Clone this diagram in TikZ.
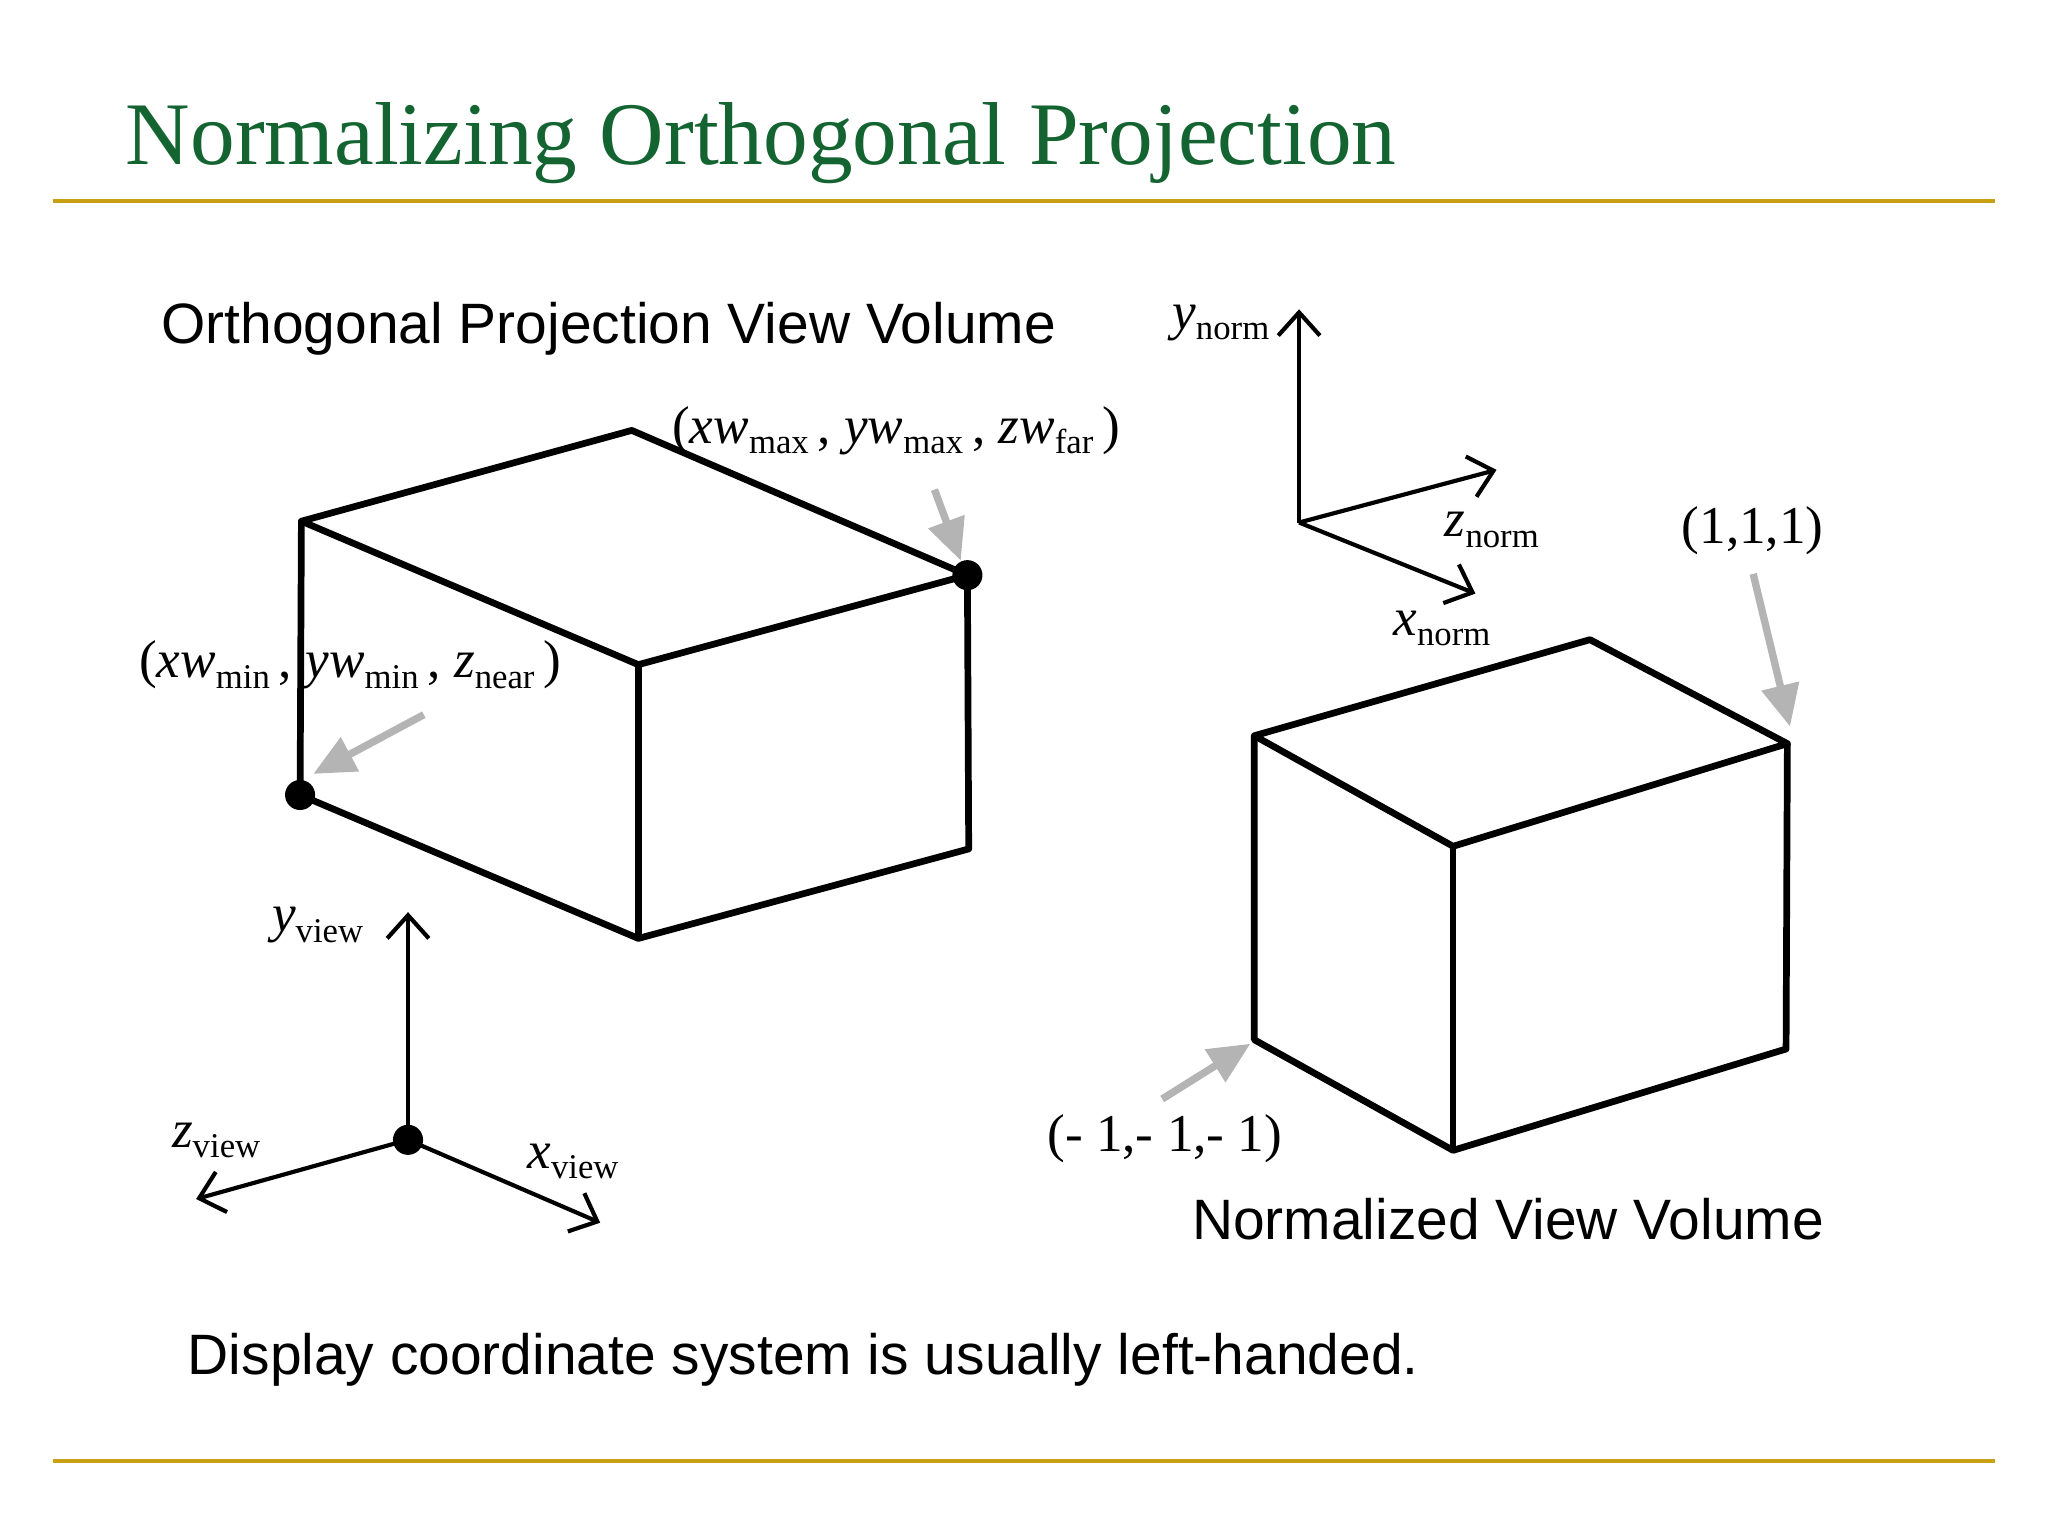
\documentclass[tikz,border=0pt]{standalone}
\usepackage{fontspec}
\setmainfont{Liberation Serif}
\setsansfont{Liberation Sans}
\usetikzlibrary{arrows.meta}
\definecolor{gold}{RGB}{201,160,20}
\definecolor{ttl}{RGB}{20,100,50}
\definecolor{grayarr}{RGB}{180,180,180}
\tikzset{
 boxl/.style={line width=1.45pt,line join=round},
 axl/.style={line width=0.9pt,-{Straight Barb[length=5pt,width=9pt,line width=0.9pt]}},
 garr/.style={grayarr,line width=1.6pt,-{Triangle[length=9pt,width=8pt]}},
 lab/.style={font=\fontsize{11.5pt}{13pt}\selectfont,inner sep=0pt},
 stxt/.style={font=\sffamily\fontsize{12.3pt}{14pt}\selectfont,inner sep=0pt,anchor=base west},
 dot/.style={circle,fill=black,inner sep=0pt,minimum size=6.5pt}
}
\newcommand{\sbs}[1]{\raisebox{-2.2pt}{\fontsize{7.5pt}{8pt}\selectfont #1}}
\begin{document}
\begin{tikzpicture}[x=0.01cm,y=-0.01cm]
\useasboundingbox (0,0) rectangle (1556,1167);
\node[anchor=base west,inner sep=0pt,text=ttl,font=\fontsize{19.3pt}{24pt}\selectfont] (title) at (95,125) {Normalizing Orthogonal Projection};
\coordinate (l1a) at (40,153); \coordinate (l1b) at (1516,153);
\coordinate (l2a) at (40,1110); \coordinate (l2b) at (1516,1110);
\draw[gold,line width=0.9pt] (l1a)--(l1b);
\draw[gold,line width=0.9pt] (l2a)--(l2b);
\node[stxt] (t1) at (122,261) {Orthogonal Projection View Volume};
\node[stxt] (t2) at (905,942) {Normalized View Volume};
\node[stxt] (t3) at (142,1044) {Display coordinate system is usually left-handed.};
% box 1
\coordinate (a1) at (229,396); \coordinate (a2) at (480,327); \coordinate (a3) at (735,437); \coordinate (a4) at (485,505);
\coordinate (b1) at (228,604); \coordinate (b4) at (485,713); \coordinate (b3) at (736,645);
\draw[boxl] (a1)--(a2)--(a3)--(a4)--cycle;
\draw[boxl] (a1)--(b1)--(b4)--(b3)--(a3);
\draw[boxl] (a4)--(b4);
\node[dot] (d1) at (b1) {}; \node[dot] (d2) at (a3) {};
\node[lab,anchor=base west] (lmax) at (510,337) {(\textit{xw}\sbs{max}\,, \textit{yw}\sbs{max}\,, \textit{zw}\sbs{far}\,)};
\node[lab,anchor=base west] (lmin) at (105,515) {(\textit{xw}\sbs{min}\,, \textit{yw}\sbs{min}\,, \textit{z}\sbs{near}\,)};
\coordinate (g1s) at (710,372); \coordinate (g1e) at (730,426);
\coordinate (g2s) at (322,543); \coordinate (g2e) at (238,588);
\draw[garr] (g1s)--(g1e);
\draw[garr] (g2s)--(g2e);
% view axes
\node[dot] (o1) at (310,866) {};
\coordinate (vy) at (310,693); \coordinate (vz) at (149,911); \coordinate (vx) at (456,929);
\draw[axl] (o1.center)--(vy);
\draw[axl] (o1.center)--(vz);
\draw[axl] (o1.center)--(vx);
\node[lab,anchor=base west] (lvy) at (206,708) {\textit{y}\sbs{view}};
\node[lab,anchor=base west] (lvz) at (130,872) {\textit{z}\sbs{view}};
\node[lab,anchor=base west] (lvx) at (400,888) {\textit{x}\sbs{view}};
% norm axes
\coordinate (o2) at (987,397);
\coordinate (ny) at (987,235); \coordinate (nz) at (1137,357); \coordinate (nx) at (1121,451);
\draw[axl] (o2)--(ny);
\draw[axl] (o2)--(nz);
\draw[axl] (o2)--(nx);
\node[lab,anchor=base west] (lny) at (890,250) {\textit{y}\sbs{norm}};
\node[lab,anchor=base west] (lnz) at (1097,408) {\textit{z}\sbs{norm}};
\node[lab,anchor=base west] (lnx) at (1058,483) {\textit{x}\sbs{norm}};
% box 2
\coordinate (c1) at (953,559); \coordinate (c2) at (1208,486); \coordinate (c3) at (1358,565); \coordinate (c4) at (1104,643);
\coordinate (e1) at (953,790); \coordinate (e4) at (1104,874); \coordinate (e3) at (1357,797);
\draw[boxl] (c1)--(c2)--(c3)--(c4)--cycle;
\draw[boxl] (c1)--(e1)--(e4)--(e3)--(c3);
\draw[boxl] (c4)--(e4);
\node[lab,anchor=base west] (l111) at (1277,413) {(1,1,1)};
\node[lab,anchor=base west] (lm111) at (795,875) {(- 1,- 1,- 1)};
\coordinate (g3s) at (1332,436); \coordinate (g3e) at (1360,552);
\coordinate (g4s) at (883,835); \coordinate (g4e) at (950,793);
\draw[garr] (g3s)--(g3e);
\draw[garr] (g4s)--(g4e);
\end{tikzpicture}
\end{document}
